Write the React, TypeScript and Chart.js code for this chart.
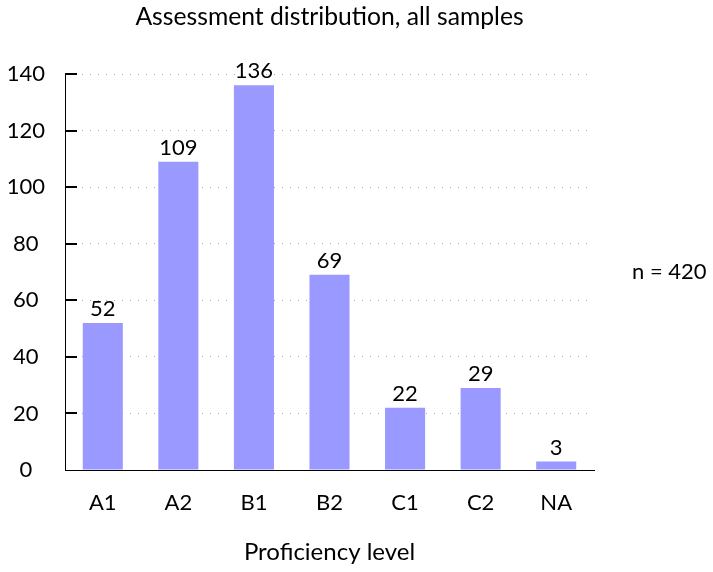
import { useEffect, useRef } from "react";
import { Chart, registerables } from "chart.js";

Chart.register(...registerables);

const categories = ["A1", "A2", "B1", "B2", "C1", "C2", "NA"];
const counts = [52, 109, 136, 69, 22, 29, 3];
const yMax = 140;
const yStep = 20;
const chartTitle = "Assessment distribution, all samples";
const xAxisTitle = "Proficiency level";
const sampleNote = "n = 420";

const FONT = "Lato";

const overlayPlugin = {
  id: "overlay",
  afterDraw(chart: any) {
    const { ctx, chartArea, scales } = chart;
    const y = scales.y;
    ctx.save();
    // inside tick marks on y axis
    ctx.strokeStyle = "#000";
    ctx.lineWidth = 2;
    y.ticks.forEach((t: any) => {
      if (t.value === 0) return;
      const py = Math.round(y.getPixelForValue(t.value));
      ctx.beginPath();
      ctx.moveTo(chartArea.left, py);
      ctx.lineTo(chartArea.left + 12, py);
      ctx.stroke();
    });
    // data labels
    const meta = chart.getDatasetMeta(0);
    ctx.fillStyle = "#000";
    ctx.font = `22px ${FONT}`;
    ctx.textAlign = "center";
    ctx.textBaseline = "alphabetic";
    meta.data.forEach((bar: any, i: number) => {
      ctx.fillText(String(counts[i]), bar.x, bar.y - 7);
    });
    // title
    ctx.font = `24.7px ${FONT}`;
    ctx.textBaseline = "middle";
    ctx.fillText(chartTitle, (chartArea.left + chartArea.right) / 2, 17);
    // sample note
    ctx.textAlign = "left";
    ctx.font = `22px ${FONT}`;
    ctx.fillText(sampleNote, chartArea.right + 38, (chartArea.top + chartArea.bottom) / 2);
    ctx.restore();
  },
};

export default function App() {
  const ref = useRef<HTMLCanvasElement | null>(null);
  useEffect(() => {
    document.body.style.margin = "0";
    const chart = new Chart(ref.current!, {
      type: "bar",
      data: {
        labels: categories,
        datasets: [
          {
            data: counts,
            backgroundColor: "#9999ff",
            barPercentage: 0.53,
            categoryPercentage: 1,
          },
        ],
      },
      options: {
        animation: false,
        responsive: false,
        maintainAspectRatio: false,
        layout: { padding: { top: 74, right: 119, left: 8, bottom: 0 } },
        plugins: {
          legend: { display: false },
          title: { display: false },
          tooltip: { enabled: false },
        },
        scales: {
          x: {
            afterFit(scale: any) {
              scale.height = 102;
            },
            grid: { display: false, drawTicks: false },
            border: { display: true, color: "#000", width: 1 },
            ticks: { color: "#000", font: { family: FONT, size: 22 }, padding: 20 },
            title: {
              display: true,
              text: xAxisTitle,
              color: "#000",
              font: { family: FONT, size: 24 },
              padding: { top: 2, bottom: 5 },
            },
          },
          y: {
            min: 0,
            max: yMax,
            afterFit(scale: any) {
              scale.width = 57;
            },
            grid: {
              drawTicks: false,
              color: "#a8a8a8",
              lineWidth: 1,
            },
            border: { display: true, color: "#000", width: 1, dash: [1, 7] } as any,
            ticks: {
              stepSize: yStep,
              color: "#000",
              font: { family: FONT, size: 22 },
              padding: 20,
              crossAlign: "center",
            },
          },
        },
      },
      plugins: [overlayPlugin],
    });
    return () => chart.destroy();
  }, []);
  return <canvas ref={ref} width={713} height={572} style={{ display: "block" }} />;
}
